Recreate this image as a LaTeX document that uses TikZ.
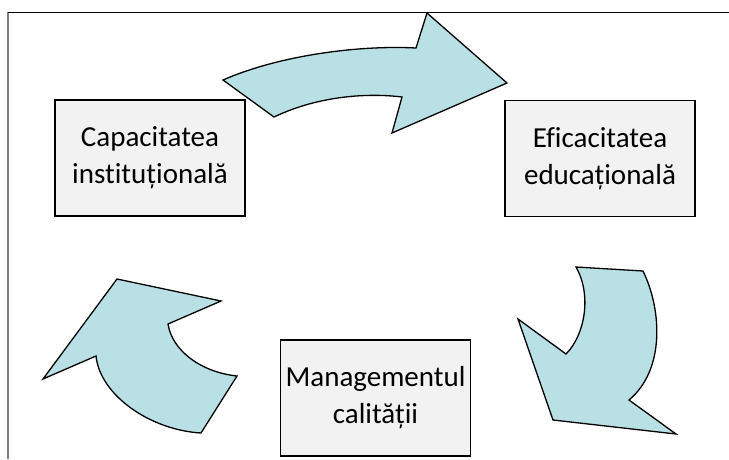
\documentclass[tikz,border=0pt]{standalone}
\usepackage{fontspec}
\setmainfont{Carlito}[Ligatures=NoCommon]
\definecolor{arrowfill}{RGB}{185,224,228}
\definecolor{boxfill}{RGB}{242,242,242}
\begin{document}
\begin{tikzpicture}[x=1pt,y=-1pt,box/.style={shape=rectangle,draw=black,line width=1.3pt,fill=boxfill,minimum width=190pt,minimum height=116pt,align=center,font=\fontsize{29}{37}\selectfont},bigarrow/.style={draw=black,line width=1.3pt,fill=arrowfill,line join=miter}]
\useasboundingbox (0,0) rectangle (729,459);

\draw[gray,line width=2pt] (8,459) -- (8,12);
\draw[line width=1pt] (8,12) -- (729,12);

\node[box] (cap) at (150,158) {Capacitatea\\instituțională};
\node[box] (efi) at (600,158.5) {Eficacitatea\\educațională};
\node[box] (man) at (375.5,398) {Managementul\\calității};

% arrow on top
\draw[bigarrow] (223,80) .. controls (280,55) and (360,45) .. (416,48) -- (427,13) -- (507,83) -- (392,133) -- (402,97) .. controls (370,93) and (320,95) .. (274,117) -- cycle;

% arrow on the right
\draw[bigarrow] (576,267) -- (643,271) .. controls (662,310) and (665,370) .. (629,400) -- (676,434) -- (553,420) -- (518,319) -- (566,354) .. controls (585,335) and (592,295) .. cycle;

% arrow on the left
\draw[bigarrow] (117,279) -- (221,301) -- (168,324) .. controls (172,350) and (200,372) .. (237,376) -- (201,433) .. controls (150,430) and (100,395) .. (96,356) -- (43,379) -- cycle;
\end{tikzpicture}
\end{document}
